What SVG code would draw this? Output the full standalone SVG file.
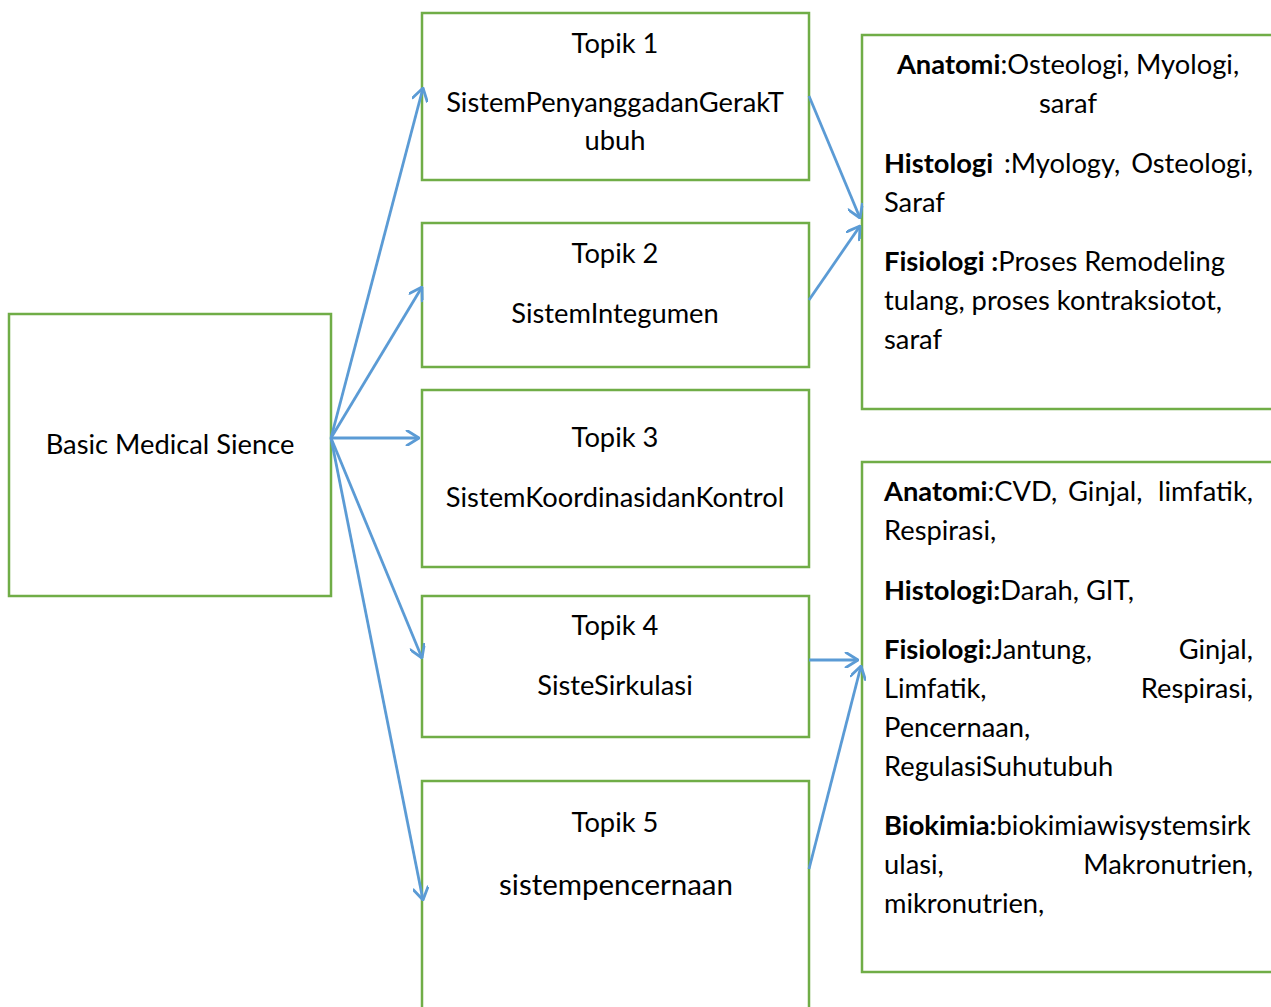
<svg xmlns="http://www.w3.org/2000/svg" width="1271" height="1007" viewBox="0 0 1271 1007">
<style>
.box{fill:#fff;stroke:#70AD47;stroke-width:2.5}
.t{font-family:Lato,"Open Sans","Liberation Sans",sans-serif;font-size:27.3px;fill:#000}
.c{text-anchor:middle}
.e{text-anchor:end}
.b{font-weight:bold}
.conn line{stroke:#5B9BD5;stroke-width:2.8;marker-end:url(#arr)}
</style>
<defs>
<marker id="arr" markerUnits="userSpaceOnUse" viewBox="0 0 16 16" markerWidth="16" markerHeight="16" refX="15" refY="8" orient="auto">
<path d="M3,0.5 L15,8 L3,15.5" fill="none" stroke="#5B9BD5" stroke-width="2.8" stroke-linecap="round" stroke-linejoin="round"/>
</marker>
</defs>
<rect width="1271" height="1007" fill="#fff"/>
<g id="basic">
<rect class="box" x="9" y="314" width="322" height="282"/>
<text class="t c" x="170" y="454">Basic Medical Sience</text>
</g>
<g id="topik1">
<rect class="box" x="422" y="13" width="387" height="167"/>
<text class="t c" x="615" y="53">Topik 1</text>
<text class="t c" x="615" y="112">SistemPenyanggadanGerakT</text>
<text class="t c" x="615" y="150">ubuh</text>
</g>
<g id="topik2">
<rect class="box" x="422" y="223" width="387" height="144"/>
<text class="t c" x="615" y="263">Topik 2</text>
<text class="t c" x="615" y="323">SistemIntegumen</text>
</g>
<g id="topik3">
<rect class="box" x="422" y="390" width="387" height="177"/>
<text class="t c" x="615" y="447">Topik 3</text>
<text class="t c" x="615" y="507">SistemKoordinasidanKontrol</text>
</g>
<g id="topik4">
<rect class="box" x="422" y="596" width="387" height="141"/>
<text class="t c" x="615" y="635">Topik 4</text>
<text class="t c" x="615" y="695">SisteSirkulasi</text>
</g>
<g id="topik5">
<rect class="box" x="422" y="781" width="387" height="240"/>
<text class="t c" x="615" y="832">Topik 5</text>
<text class="t c" x="616" y="895" style="font-size:29.5px">sistempencernaan</text>
</g>
<g id="detail1">
<rect class="box" x="862" y="35" width="420" height="374"/>
<text class="t c" x="1068" y="74"><tspan class="b">Anatomi</tspan>:Osteologi, Myologi,</text>
<text class="t c" x="1068" y="113">saraf</text>
<text class="t" x="884" y="173"><tspan class="b">Histologi</tspan></text>
<text class="t" x="1004" y="173">:Myology,</text>
<text class="t e" x="1253" y="173">Osteologi,</text>
<text class="t" x="884" y="212">Saraf</text>
<text class="t" x="884" y="271"><tspan class="b">Fisiologi :</tspan>Proses Remodeling</text>
<text class="t" x="884" y="310">tulang, proses kontraksiotot,</text>
<text class="t" x="884" y="349">saraf</text>
</g>
<g id="detail2">
<rect class="box" x="862" y="462" width="420" height="510"/>
<text class="t" x="884" y="501"><tspan class="b">Anatomi</tspan>:CVD,</text>
<text class="t" x="1068" y="501">Ginjal,</text>
<text class="t e" x="1253" y="501">limfatik,</text>
<text class="t" x="884" y="540">Respirasi,</text>
<text class="t" x="884" y="600"><tspan class="b">Histologi:</tspan>Darah, GIT,</text>
<text class="t" x="884" y="659"><tspan class="b">Fisiologi:</tspan>Jantung,</text>
<text class="t e" x="1253" y="659">Ginjal,</text>
<text class="t" x="884" y="698">Limfatik,</text>
<text class="t e" x="1253" y="698">Respirasi,</text>
<text class="t" x="884" y="737">Pencernaan,</text>
<text class="t" x="884" y="776">RegulasiSuhutubuh</text>
<text class="t" x="884" y="835"><tspan class="b">Biokimia:</tspan>biokimiawisystemsirk</text>
<text class="t" x="884" y="874">ulasi,</text>
<text class="t e" x="1253" y="874">Makronutrien,</text>
<text class="t" x="884" y="913">mikronutrien,</text>
</g>
<g id="connectors" class="conn">
<line x1="331" y1="438" x2="423" y2="88"/>
<line x1="331" y1="438" x2="422" y2="287"/>
<line x1="331" y1="438" x2="419" y2="438"/>
<line x1="331" y1="438" x2="422" y2="658"/>
<line x1="331" y1="438" x2="423" y2="900"/>
<line x1="809" y1="96" x2="860" y2="218"/>
<line x1="809" y1="300" x2="860" y2="226"/>
<line x1="809" y1="660" x2="858" y2="660"/>
<line x1="809" y1="869" x2="861" y2="666"/>
</g>
</svg>
